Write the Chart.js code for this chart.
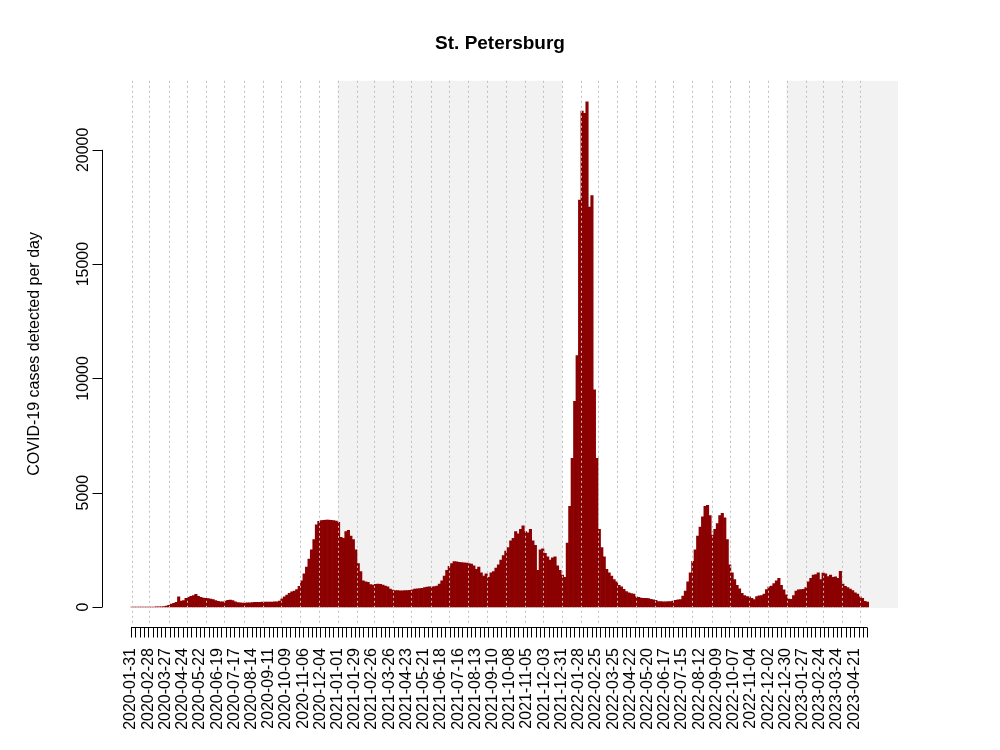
<!DOCTYPE html>
<html>
<head>
<meta charset="utf-8">
<script src="https://cdn.jsdelivr.net/npm/chart.js@4.4.1/dist/chart.umd.min.js"></script>
<style>
  html, body { margin: 0; padding: 0; background: #fff; }
  #wrap { width: 1000px; height: 750px; }
</style>
</head>
<body>
<div id="wrap"><canvas id="chart"></canvas></div>
<script>
(() => {
  'use strict';

  // first day of the series, values are 4-day blocks from here
  const START_DATE = '2020-01-31';
  const STEP_DAYS = 4;

  // daily cases (one value per 4-day block)
  const cases = [
    0, 0, 0, 0, 0, 0, 0, 0, 0, 0, 2, 5, 10, 20, 40,
    70, 130, 160, 200, 440, 260, 280, 380, 420, 470, 500, 550, 470, 420, 390,
    380, 370, 350, 320, 280, 250, 230, 230, 260, 290, 300, 280, 230, 190, 180,
    175, 175, 180, 185, 190, 200, 200, 205, 210, 210, 215, 220, 220, 225, 230,
    260, 360, 450, 520, 600, 660, 700, 760, 900, 1150, 1450, 1750, 2100, 2500, 2950,
    3600, 3750, 3780, 3790, 3800, 3800, 3790, 3780, 3760, 3700, 3050, 3000, 3300, 3350, 3100,
    2950, 2500, 1900, 1550, 1150, 1100, 1080, 980, 960, 990, 1000, 990, 960, 920, 880,
    780, 740, 720, 715, 710, 710, 715, 720, 730, 750, 780, 800, 810, 820, 850,
    870, 880, 880, 890, 920, 1000, 1150, 1350, 1600, 1780, 1900, 1990, 1980, 1950, 1940,
    1930, 1920, 1900, 1880, 1800, 1650, 1750, 1500, 1350, 1450, 1300, 1500, 1550, 1700, 1850,
    2050, 2250, 2450, 2600, 2900, 3000, 3300, 3200, 3400, 3550, 3300, 3250, 3400, 2900, 2700,
    1600, 2500, 2550, 2350, 2200, 2050, 2150, 2200, 1800, 1600, 1400, 1300, 2800, 4400, 6500,
    9000, 11000, 17800, 21700, 21600, 22100, 17500, 18000, 9500, 6500, 3400, 2600, 2200, 1650, 1500,
    1350, 1200, 1100, 950, 880, 770, 680, 620, 590, 560, 450, 420, 390, 380, 380,
    370, 340, 310, 290, 240, 235, 230, 230, 232, 235, 260, 290, 310, 330, 480,
    700, 1100, 1500, 2000, 2500, 3100, 3500, 3950, 4400, 4450, 4000, 3150, 3400, 3650, 4000,
    4100, 3900, 2950, 1850, 1500, 1200, 950, 800, 600, 500, 460, 440, 380, 330, 460,
    490, 500, 560, 760, 880, 920, 1020, 1150, 1250, 950, 750, 530, 350, 340, 500,
    700, 750, 760, 770, 850, 1100, 1250, 1400, 1420, 1500, 1200, 1480, 1450, 1330, 1400,
    1300, 1320, 1250, 1560, 1000, 900, 850, 780, 720, 620, 560, 450, 380, 250, 220,
  ];

  // x tick labels (every 28 days)
  const tickLabels = [
    '2020-01-31', '2020-02-28', '2020-03-27', '2020-04-24', '2020-05-22', '2020-06-19',
    '2020-07-17', '2020-08-14', '2020-09-11', '2020-10-09', '2020-11-06', '2020-12-04',
    '2021-01-01', '2021-01-29', '2021-02-26', '2021-03-26', '2021-04-23', '2021-05-21',
    '2021-06-18', '2021-07-16', '2021-08-13', '2021-09-10', '2021-10-08', '2021-11-05',
    '2021-12-03', '2021-12-31', '2022-01-28', '2022-02-25', '2022-03-25', '2022-04-22',
    '2022-05-20', '2022-06-17', '2022-07-15', '2022-08-12', '2022-09-09', '2022-10-07',
    '2022-11-04', '2022-12-02', '2022-12-30', '2023-01-27', '2023-02-24', '2023-03-24',
    '2023-04-21',
  ];

  // y ticks
  const yTicks = [0, 5000, 10000, 15000, 20000];

  // years with grey background
  const shadedYears = [2021, 2023];

  const TITLE = 'St. Petersburg';
  const Y_TITLE = 'COVID-19 cases detected per day';
  const FONT = "'Liberation Sans', Arial, Helvetica, sans-serif";

  // day index from START_DATE
  const t0 = Date.parse(START_DATE + 'T00:00:00Z');
  const dayOf = (s) => Math.round((Date.parse(s + 'T00:00:00Z') - t0) / 86400000);

  const lastDay = cases.length * STEP_DAYS - 1;

  // weekly ticks from start to end of data
  const weekTicks = [];
  for (let d = 0; d <= lastDay - 2; d += 7) weekTicks.push(d);

  // month starts for the dotted grid
  const monthStarts = [];
  for (let yr = 2020; yr <= 2023; yr++) {
    for (let m = 1; m <= 12; m++) {
      const s = `${yr}-${String(m).padStart(2, '0')}-01`;
      const d = dayOf(s);
      if (d >= 0 && d <= lastDay) monthStarts.push(d);
    }
  }

  // R-style axes, grid and shading
  const rPlot = {
    id: 'rPlot',
    beforeDatasetsDraw(chart) {
      const { ctx, chartArea: a, scales: { x, y } } = chart;
      const y0 = y.getPixelForValue(0);
      ctx.save();
      ctx.fillStyle = '#f2f2f2';
      shadedYears.forEach((yr) => {
        const x1 = x.getPixelForValue(dayOf(yr + '-01-01'));
        const x2 = Math.min(a.right, x.getPixelForValue(dayOf((yr + 1) + '-01-01')));
        ctx.fillRect(x1, a.top, x2 - x1, y0 - a.top + 1);
      });
      ctx.restore();
    },
    afterDatasetsDraw(chart) {
      const { ctx, chartArea: a, scales: { x, y } } = chart;
      ctx.save();

      // dotted month grid
      ctx.strokeStyle = '#bebebe';
      ctx.lineWidth = 1;
      ctx.setLineDash([2, 3]);
      monthStarts.forEach((d) => {
        const px = Math.round(x.getPixelForValue(d)) + 0.5;
        ctx.beginPath();
        ctx.moveTo(px, a.top);
        ctx.lineTo(px, a.bottom - 4);
        ctx.stroke();
      });
      ctx.setLineDash([]);

      // x axis
      ctx.strokeStyle = '#000';
      const ax = a.bottom + 0.5;
      ctx.beginPath();
      ctx.moveTo(x.getPixelForValue(weekTicks[0]), ax);
      ctx.lineTo(x.getPixelForValue(weekTicks[weekTicks.length - 1]), ax);
      weekTicks.forEach((d) => {
        const px = Math.round(x.getPixelForValue(d)) + 0.5;
        ctx.moveTo(px, ax);
        ctx.lineTo(px, ax + 10);
      });
      ctx.stroke();

      ctx.fillStyle = '#000';
      ctx.font = '16px ' + FONT;
      ctx.textAlign = 'right';
      ctx.textBaseline = 'middle';
      tickLabels.forEach((lab) => {
        const px = x.getPixelForValue(dayOf(lab));
        ctx.save();
        ctx.translate(px, a.bottom + 21);
        ctx.rotate(-Math.PI / 2);
        ctx.fillText(lab, 0, 0);
        ctx.restore();
      });

      // y axis
      const ay = a.left + 0.5;
      ctx.beginPath();
      ctx.moveTo(ay, y.getPixelForValue(yTicks[0]));
      ctx.lineTo(ay, y.getPixelForValue(yTicks[yTicks.length - 1]));
      yTicks.forEach((v) => {
        const py = Math.round(y.getPixelForValue(v)) + 0.5;
        ctx.moveTo(ay, py);
        ctx.lineTo(ay - 10, py);
      });
      ctx.stroke();

      ctx.textAlign = 'center';
      ctx.textBaseline = 'alphabetic';
      yTicks.forEach((v) => {
        ctx.save();
        ctx.translate(a.left - 14, y.getPixelForValue(v));
        ctx.rotate(-Math.PI / 2);
        ctx.fillText(String(v), 0, 0);
        ctx.restore();
      });

      // y title
      ctx.save();
      ctx.translate(39, (a.top + a.bottom) / 2);
      ctx.rotate(-Math.PI / 2);
      ctx.fillText(Y_TITLE, 0, 0);
      ctx.restore();

      ctx.restore();
    },
  };

  new Chart(document.getElementById('chart'), {
    type: 'bar',
    data: {
      datasets: [{
        data: cases.map((v, i) => ({ x: i * STEP_DAYS + (STEP_DAYS - 1) / 2, y: v })),
        backgroundColor: '#8b0000',
        borderColor: '#8b0000',
        borderWidth: 0,
        barPercentage: 1,
        categoryPercentage: 1,
      }],
    },
    options: {
      responsive: true,
      maintainAspectRatio: false,
      animation: false,
      layout: { padding: { left: 102, right: 102, top: 0, bottom: 123 } },
      scales: {
        x: { type: 'linear', offset: false, min: -47.2, max: 1247.2, display: false },
        y: { min: -875, max: 23020, display: false },
      },
      plugins: {
        legend: { display: false },
        tooltip: { enabled: false },
        title: {
          display: true,
          text: TITLE,
          color: '#000',
          font: { family: FONT, size: 19, weight: 'bold' },
          padding: { top: 32, bottom: 26 },
        },
      },
    },
    plugins: [rPlot],
  });
})();
</script>
</body>
</html>
